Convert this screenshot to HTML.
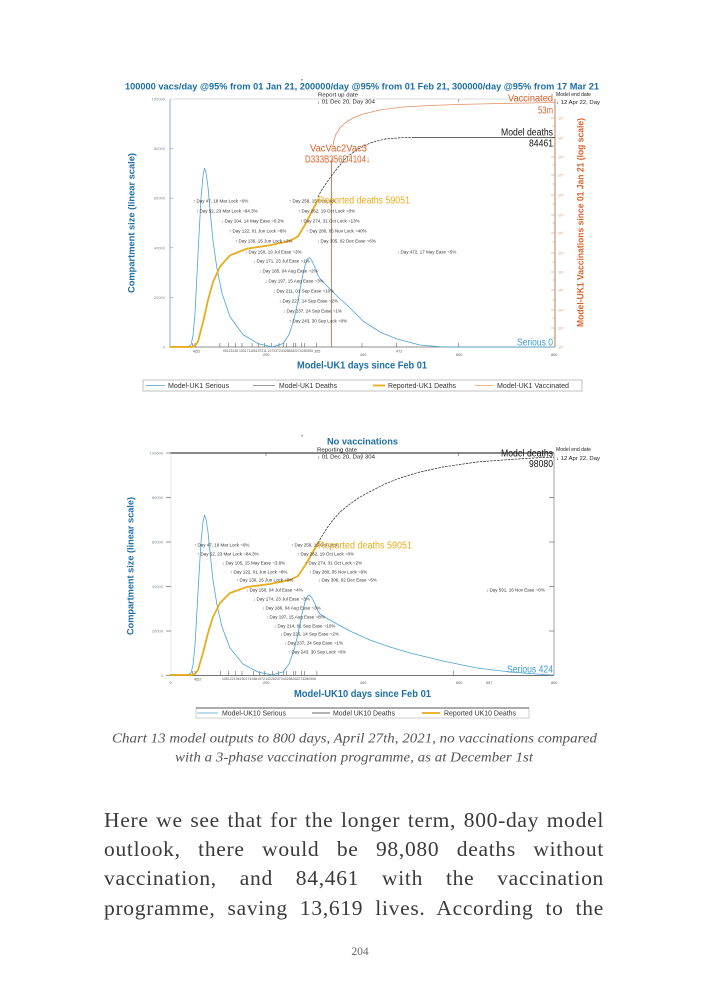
<!DOCTYPE html>
<html><head><meta charset="utf-8"><style>
html,body{margin:0;padding:0;background:#fff;}
body{width:709px;height:992px;position:relative;overflow:hidden;}
svg{position:absolute;left:0;top:0;}
.bt{position:absolute;left:104px;top:806px;width:500px;font-family:"Liberation Serif",serif;font-size:21.5px;line-height:29.2px;color:#3a3a3a;letter-spacing:0.7px;}
.bt div{text-align:justify;text-align-last:justify;height:29.2px;}
</style></head><body>
<svg width="709" height="992" viewBox="0 0 709 992" font-family="Liberation Sans, DejaVu Sans, sans-serif">
<!-- ================= TOP CHART ================= -->
<text x="125" y="89.5" font-size="9.5" font-weight="bold" fill="#1c6ea4" textLength="474" lengthAdjust="spacingAndGlyphs">100000 vacs/day @95% from 01 Jan 21, 200000/day @95% from 01 Feb 21, 300000/day @95% from 17 Mar 21</text>
<rect x="301.5" y="79" width="1" height="1.5" fill="#555"/>
<!-- frame -->
<line x1="170" y1="99" x2="555" y2="99" stroke="#cfcfcf" stroke-width="0.8"/>
<line x1="170" y1="99" x2="170" y2="347" stroke="#6f9cc2" stroke-width="0.8"/>
<line x1="170" y1="347" x2="555" y2="347" stroke="#666" stroke-width="0.8"/>
<line x1="555" y1="99" x2="555" y2="347" stroke="#b9825c" stroke-width="1"/>
<line x1="458.5" y1="99" x2="458.5" y2="102" stroke="#777" stroke-width="0.6"/>
<!-- left ticks -->
<g stroke="#6f9cc2" stroke-width="0.6">
<line x1="170" y1="148.6" x2="173" y2="148.6"/><line x1="170" y1="198.2" x2="173" y2="198.2"/><line x1="170" y1="247.8" x2="173" y2="247.8"/><line x1="170" y1="297.4" x2="173" y2="297.4"/>
</g>
<g font-size="4" fill="#7f8d99" text-anchor="end">
<text x="165" y="100.5">100000</text><text x="165" y="150">80000</text><text x="165" y="199.7">60000</text><text x="165" y="249.3">40000</text><text x="165" y="298.9">20000</text><text x="165" y="348.5">0</text>
</g>
<!-- right axis ticks -->
<g stroke="#c89878" stroke-width="0.6">
<line x1="551" y1="118" x2="555" y2="118"/><line x1="551" y1="138" x2="555" y2="138"/><line x1="551" y1="157" x2="555" y2="157"/><line x1="551" y1="175" x2="555" y2="175"/><line x1="551" y1="195" x2="555" y2="195"/><line x1="551" y1="215" x2="555" y2="215"/><line x1="551" y1="233" x2="555" y2="233"/><line x1="551" y1="253" x2="555" y2="253"/><line x1="551" y1="272" x2="555" y2="272"/><line x1="551" y1="290" x2="555" y2="290"/><line x1="551" y1="310" x2="555" y2="310"/><line x1="551" y1="328" x2="555" y2="328"/>
<line x1="552.5" y1="126" x2="555" y2="126"/><line x1="552.5" y1="146" x2="555" y2="146"/><line x1="552.5" y1="165" x2="555" y2="165"/><line x1="552.5" y1="184" x2="555" y2="184"/><line x1="552.5" y1="204" x2="555" y2="204"/><line x1="552.5" y1="223" x2="555" y2="223"/><line x1="552.5" y1="242" x2="555" y2="242"/><line x1="552.5" y1="262" x2="555" y2="262"/><line x1="552.5" y1="280" x2="555" y2="280"/><line x1="552.5" y1="300" x2="555" y2="300"/><line x1="552.5" y1="318" x2="555" y2="318"/><line x1="552.5" y1="338" x2="555" y2="338"/>
</g>
<g font-size="3.8" fill="#d49a74">
<text x="558" y="119.5">10⁷</text><text x="558" y="139.5">10⁷</text><text x="558" y="158.5">10⁶</text><text x="558" y="176.5">10⁶</text><text x="558" y="196.5">10⁶</text><text x="558" y="216.5">10⁵</text><text x="558" y="234.5">10⁵</text><text x="558" y="254.5">10⁴</text><text x="558" y="273.5">10⁴</text><text x="558" y="291.5">10³</text><text x="558" y="311.5">10²</text><text x="558" y="329.5">10¹</text><text x="558" y="348.5">10⁰</text>
</g>
<!-- event ticks bottom -->
<g stroke="#444" stroke-width="0.5">
<line x1="192.6" y1="343" x2="192.6" y2="347"/><line x1="195" y1="343" x2="195" y2="347"/><line x1="219.9" y1="343" x2="219.9" y2="347"/><line x1="228.6" y1="343" x2="228.6" y2="347"/><line x1="235.3" y1="343" x2="235.3" y2="347"/><line x1="242" y1="343" x2="242" y2="347"/><line x1="252.1" y1="343" x2="252.1" y2="347"/><line x1="258.8" y1="343" x2="258.8" y2="347"/><line x1="264.6" y1="343" x2="264.6" y2="347"/><line x1="271.3" y1="343" x2="271.3" y2="347"/><line x1="279" y1="343" x2="279" y2="347"/><line x1="283.8" y1="343" x2="283.8" y2="347"/><line x1="286.6" y1="343" x2="286.6" y2="347"/><line x1="293.8" y1="343" x2="293.8" y2="347"/><line x1="295.8" y1="343" x2="295.8" y2="347"/><line x1="301.5" y1="343" x2="301.5" y2="347"/><line x1="304.4" y1="343" x2="304.4" y2="347"/><line x1="316.4" y1="343" x2="316.4" y2="347"/><line x1="362" y1="343" x2="362" y2="347"/><line x1="396.6" y1="343" x2="396.6" y2="347"/><line x1="458.5" y1="343" x2="458.5" y2="347"/>
</g>
<g font-size="3.8" fill="#555">
<text x="193" y="352.5">4|52</text>
<text x="223" y="352" textLength="90" lengthAdjust="spacingAndGlyphs">95123136 150171185197211 227237243258262274280305</text>
<text x="314" y="352.5">305</text>
<text x="396" y="352.5">472</text>
<text x="263" y="356">200</text><text x="360" y="356">400</text><text x="456" y="356">600</text><text x="551" y="356">800</text>
</g>
<!-- vaccination start line -->
<line x1="331.5" y1="160" x2="331.5" y2="347" stroke="#c97a4c" stroke-width="0.9"/>
<!-- shared curves scaled into top chart -->
<g transform="matrix(1 0 0 1.1171 0 -407.1)">
<polyline vector-effect="non-scaling-stroke" fill="none" stroke="#4ba3d3" stroke-width="0.8" stroke-linejoin="round" points="170,675 188,675 191,673 193,665 195,645 197,610 199,575 201,542 203,522 204.5,515 206,519 208,532 210,552 213,580 217,605 222,627 230,648 243,664 258,672 272,675 283,672 289,664 294,650 298,634 302,614 305,602 307.5,596 309.5,595 312,598 315,604 318,611 320,614"/>
<polyline vector-effect="non-scaling-stroke" fill="none" stroke="#e8ac1c" stroke-width="1.8" stroke-linejoin="round" stroke-linecap="round" points="170,675 192,675 195,674 198,670 203,653 208,633 213,617 220,603 230,593 247,587 270,584 290,580 298,576 302,570 306,564 310,557 314,550 318,543"/>
</g>
<polyline fill="none" stroke="#4ba3d3" stroke-width="0.8" stroke-linejoin="round" points="320,278.8 327,286 337,296 347,305 363,321 380,332 397,339 420,345 443,347 555,347"/>
<polyline fill="none" stroke="#222" stroke-width="0.7" stroke-dasharray="2.5,1" points="318,197 321,191 325,185 332,175 340,165 347,157 358,149 370,143 385,139 400,137.8 413,137.5"/>
<line x1="413" y1="137.5" x2="555" y2="137.5" stroke="#333" stroke-width="0.8"/>
<polyline fill="none" stroke="#e09060" stroke-width="0.8" stroke-linejoin="round" points="333,146 334,140 336,134 340,128 345,123 353,118 363,114 380,110 403,107 430,105.5 457,104.5 500,103.5 555,102.5"/>
<!-- annotations -->
<g font-size="4.5" fill="#333">
<text x="193" y="202.5">↑ Day 47, 18 Mar Lock ~0%</text>
<text x="196" y="212.5">↑ Day 52, 23 Mar Lock ~84.3%</text>
<text x="221" y="222.5">↓ Day 104, 14 May Ease ~0.2%</text>
<text x="229" y="232.5">↑ Day 122, 01 Jun Lock ~8%</text>
<text x="235" y="242.5">↑ Day 136, 15 Jun Lock ~2%</text>
<text x="245" y="253.5">↓ Day 150, 19 Jul Ease ~3%</text>
<text x="253" y="262.5">↓ Day 171, 23 Jul Ease ~1%</text>
<text x="259" y="272.5">↓ Day 185, 04 Aug Ease ~2%</text>
<text x="265" y="282.5">↓ Day 197, 15 Aug Ease ~3%</text>
<text x="273" y="292.5">↓ Day 211, 01 Sep Ease ~10%</text>
<text x="279" y="302.5">↓ Day 227, 14 Sep Ease ~2%</text>
<text x="283" y="312.5">↓ Day 237, 24 Sep Ease ~1%</text>
<text x="289" y="322.5">↑ Day 243, 30 Sep Lock ~0%</text>
<text x="289" y="202.5">↑ Day 258, 15 Oct Lock</text>
<text x="298" y="212.5">↑ Day 262, 19 Oct Lock ~0%</text>
<text x="300" y="222.5">↑ Day 274, 31 Oct Lock ~13%</text>
<text x="306" y="232.5">↑ Day 280, 05 Nov Lock ~40%</text>
<text x="317" y="242.5">↓ Day 305, 02 Dec Ease ~6%</text>
<text x="397" y="253.5">↓ Day 472, 17 May Ease ~5%</text>
</g>
<g font-size="5" fill="#222">
<text x="318" y="96.5" textLength="40" lengthAdjust="spacingAndGlyphs">Report up date</text>
<text x="317" y="103.5" textLength="58" lengthAdjust="spacingAndGlyphs">↓ 01 Dec 20, Day 304</text>
<text x="556" y="96" textLength="35" lengthAdjust="spacingAndGlyphs">Model end date</text>
<text x="556" y="104" textLength="44" lengthAdjust="spacingAndGlyphs">↓ 12 Apr 22, Day</text>
</g>
<g font-size="10">
<text x="310" y="151.5" fill="#d9622b" textLength="57" lengthAdjust="spacingAndGlyphs">VacVac2Vac3</text>
<text x="305" y="162.5" fill="#d9622b" textLength="65" lengthAdjust="spacingAndGlyphs">D333B356D4104↓</text>
<text x="318" y="203.5" fill="#e8ac1c" textLength="92" lengthAdjust="spacingAndGlyphs">Reported deaths 59051</text>
<text x="508" y="101.5" fill="#d9622b" textLength="45" lengthAdjust="spacingAndGlyphs">Vaccinated</text>
<text x="538" y="113.5" fill="#d9622b" textLength="15" lengthAdjust="spacingAndGlyphs">53m</text>
<text x="501" y="135.5" fill="#111" textLength="52" lengthAdjust="spacingAndGlyphs">Model deaths</text>
<text x="529" y="146.5" fill="#111" textLength="24" lengthAdjust="spacingAndGlyphs">84461</text>
<text x="517" y="345.5" fill="#3a9cd0" textLength="36" lengthAdjust="spacingAndGlyphs">Serious 0</text>
</g>
<text x="297" y="368.5" font-size="10" font-weight="bold" fill="#1c6ea4" textLength="130" lengthAdjust="spacingAndGlyphs">Model-UK1 days since Feb 01</text>
<text transform="translate(134.5,223) rotate(-90)" text-anchor="middle" font-size="9.5" font-weight="bold" fill="#1c6ea4" textLength="140" lengthAdjust="spacingAndGlyphs">Compartment size (linear scale)</text>
<text transform="translate(583.5,222.5) rotate(-90)" text-anchor="middle" font-size="9.5" font-weight="bold" fill="#d9622b" textLength="209" lengthAdjust="spacingAndGlyphs">Model-UK1 Vaccinations since 01 Jan 21 (log scale)</text>
<!-- legend top -->
<rect x="143" y="380" width="439" height="11" fill="#fff" stroke="#a8a8a8" stroke-width="0.7"/>
<line x1="146" y1="385.5" x2="165" y2="385.5" stroke="#4ba3d3" stroke-width="0.8"/>
<line x1="253" y1="385.5" x2="275" y2="385.5" stroke="#777" stroke-width="0.8"/>
<line x1="373" y1="385.5" x2="385" y2="385.5" stroke="#e8ac1c" stroke-width="1.8"/>
<line x1="475" y1="385.5" x2="493" y2="385.5" stroke="#f0b48a" stroke-width="0.9"/>
<g font-size="7" fill="#333">
<text x="168" y="388" textLength="61" lengthAdjust="spacingAndGlyphs">Model-UK1 Serious</text>
<text x="279" y="388" textLength="58" lengthAdjust="spacingAndGlyphs">Model-UK1 Deaths</text>
<text x="388" y="388" textLength="68" lengthAdjust="spacingAndGlyphs">Reported-UK1 Deaths</text>
<text x="497" y="388" textLength="72" lengthAdjust="spacingAndGlyphs">Model-UK1 Vaccinated</text>
</g>

<!-- ================= BOTTOM CHART ================= -->
<rect x="301.5" y="435" width="1" height="1.5" fill="#555"/>
<text x="327" y="444.5" font-size="9.5" font-weight="bold" fill="#1c6ea4" textLength="71" lengthAdjust="spacingAndGlyphs">No vaccinations</text>
<line x1="170" y1="453" x2="554" y2="453" stroke="#111" stroke-width="1"/>
<line x1="171" y1="453" x2="171" y2="675" stroke="#d8d8d8" stroke-width="0.6"/>
<line x1="170" y1="675.5" x2="554" y2="675.5" stroke="#444" stroke-width="0.8"/>
<line x1="554" y1="453" x2="554" y2="675" stroke="#999" stroke-width="0.9"/>
<g stroke="#555" stroke-width="0.6">
<line x1="166" y1="453" x2="171" y2="453"/><line x1="166" y1="497.5" x2="171" y2="497.5"/><line x1="166" y1="542" x2="171" y2="542"/><line x1="166" y1="586.5" x2="171" y2="586.5"/><line x1="166" y1="631" x2="171" y2="631"/><line x1="166" y1="675.5" x2="171" y2="675.5"/>
<line x1="549" y1="497.5" x2="554" y2="497.5"/><line x1="549" y1="542" x2="554" y2="542"/><line x1="549" y1="586.5" x2="554" y2="586.5"/><line x1="549" y1="631" x2="554" y2="631"/>
<line x1="266" y1="453" x2="266" y2="456"/><line x1="362" y1="453" x2="362" y2="456"/><line x1="458.5" y1="453" x2="458.5" y2="456"/>
</g>
<g font-size="4" fill="#7f8d99" text-anchor="end">
<text x="163" y="454.5">100000</text><text x="163" y="499">80000</text><text x="163" y="543.5">60000</text><text x="163" y="588">40000</text><text x="163" y="632.5">20000</text><text x="163" y="677">0</text>
</g>
<g stroke="#444" stroke-width="0.5">
<line x1="192.6" y1="671" x2="192.6" y2="675"/><line x1="195" y1="671" x2="195" y2="675"/><line x1="220.4" y1="671" x2="220.4" y2="675"/><line x1="228.6" y1="671" x2="228.6" y2="675"/><line x1="235.3" y1="671" x2="235.3" y2="675"/><line x1="242" y1="671" x2="242" y2="675"/><line x1="253.5" y1="671" x2="253.5" y2="675"/><line x1="259.3" y1="671" x2="259.3" y2="675"/><line x1="264.6" y1="671" x2="264.6" y2="675"/><line x1="272.7" y1="671" x2="272.7" y2="675"/><line x1="278.5" y1="671" x2="278.5" y2="675"/><line x1="283.8" y1="671" x2="283.8" y2="675"/><line x1="286.6" y1="671" x2="286.6" y2="675"/><line x1="293.8" y1="671" x2="293.8" y2="675"/><line x1="295.8" y1="671" x2="295.8" y2="675"/><line x1="301.5" y1="671" x2="301.5" y2="675"/><line x1="304.4" y1="671" x2="304.4" y2="675"/><line x1="316.9" y1="671" x2="316.9" y2="675"/><line x1="453.7" y1="671" x2="453.7" y2="675"/>
</g>
<g font-size="3.8" fill="#555">
<text x="194" y="680.5">4|52</text>
<text x="222" y="680" textLength="94" lengthAdjust="spacingAndGlyphs">105122136150174186197214226237243258262274280306</text>
<text x="169.5" y="684">0</text><text x="263" y="684">200</text><text x="360" y="684">400</text><text x="456" y="684">600</text><text x="486" y="684">657</text><text x="551" y="684">800</text>
</g>
<g fill="none" stroke-linejoin="round">
<polyline stroke="#4ba3d3" stroke-width="0.8" points="170,675 188,675 191,673 193,665 195,645 197,610 199,575 201,542 203,522 204.5,515 206,519 208,532 210,552 213,580 217,605 222,627 230,648 243,664 258,672 272,675 283,672 289,664 294,650 298,634 302,614 305,602 307.5,596 309.5,595 312,598 315,604 318,611 320,614 328,619 337,624 350,631 370,640 390,647 410,653 443,661 477,668 510,672 543,674.5 554,675"/>
<polyline stroke="#e8ac1c" stroke-width="1.8" stroke-linecap="round" points="170,675 192,675 195,674 198,670 203,653 208,633 213,617 220,603 230,593 247,587 270,584 290,580 298,576 302,570 306,564 310,557 314,550 318,543"/>
<polyline stroke="#222" stroke-width="0.7" stroke-dasharray="2.5,1" points="318,543 322,536 327,528 333,520 340,512 350,504 360,497 373,490 387,483 403,477 420,472 443,467 477,462 510,459.5 540,457.6 554,457.2"/>
</g>
<g font-size="4.5" fill="#333">
<text x="194" y="546.5">↑ Day 47, 18 Mar Lock ~0%</text>
<text x="197" y="555.5">↑ Day 52, 23 Mar Lock ~84.3%</text>
<text x="222" y="564.5">↓ Day 105, 15 May Ease ~3.8%</text>
<text x="230" y="573.5">↑ Day 122, 01 Jun Lock ~8%</text>
<text x="236" y="581.5">↑ Day 136, 15 Jun Lock ~0%</text>
<text x="246" y="591.5">↓ Day 150, 04 Jul Ease ~4%</text>
<text x="253" y="600.5">↓ Day 174, 23 Jul Ease ~3%</text>
<text x="262" y="609.5">↓ Day 186, 04 Aug Ease ~3%</text>
<text x="266" y="618.5">↓ Day 197, 15 Aug Ease ~8%</text>
<text x="274" y="627.5">↓ Day 214, 01 Sep Ease ~10%</text>
<text x="280" y="635.5">↓ Day 226, 14 Sep Ease ~2%</text>
<text x="284" y="644.5">↓ Day 237, 24 Sep Ease ~1%</text>
<text x="288" y="653.5">↑ Day 243, 30 Sep Lock ~0%</text>
<text x="291" y="546.5">↑ Day 258, 15 Oct Lock</text>
<text x="297" y="555.5">↑ Day 262, 19 Oct Lock ~0%</text>
<text x="305" y="564.5">↑ Day 274, 31 Oct Lock ~2%</text>
<text x="309" y="573.5">↑ Day 280, 05 Nov Lock ~9%</text>
<text x="318" y="581.5">↓ Day 306, 02 Dec Ease ~5%</text>
<text x="486" y="591.5">↓ Day 591, 16 Nov Ease ~0%</text>
</g>
<g font-size="5" fill="#222">
<text x="317" y="451.5" textLength="40" lengthAdjust="spacingAndGlyphs">Reporting date</text>
<text x="317" y="458.5" textLength="58" lengthAdjust="spacingAndGlyphs">↓ 01 Dec 20, Day 304</text>
<text x="556" y="451" textLength="35" lengthAdjust="spacingAndGlyphs">Model end date</text>
<text x="556" y="460" textLength="44" lengthAdjust="spacingAndGlyphs">↓ 12 Apr 22, Day</text>
</g>
<g font-size="10">
<text x="318" y="548.5" fill="#e8ac1c" textLength="94" lengthAdjust="spacingAndGlyphs">Reported deaths 59051</text>
<text x="501" y="456.5" fill="#111" textLength="52" lengthAdjust="spacingAndGlyphs">Model deaths</text>
<text x="529" y="467" fill="#111" textLength="24" lengthAdjust="spacingAndGlyphs">98080</text>
<text x="507" y="672.5" fill="#3a9cd0" textLength="46" lengthAdjust="spacingAndGlyphs">Serious 424</text>
</g>
<text x="294" y="697" font-size="10" font-weight="bold" fill="#1c6ea4" textLength="137" lengthAdjust="spacingAndGlyphs">Model-UK10 days since Feb 01</text>
<text transform="translate(133.5,566) rotate(-90)" text-anchor="middle" font-size="9.5" font-weight="bold" fill="#1c6ea4" textLength="138" lengthAdjust="spacingAndGlyphs">Compartment size (linear scale)</text>
<!-- legend bottom -->
<rect x="196" y="708" width="333" height="10" fill="#fff" stroke="#bbb" stroke-width="0.7"/>
<line x1="196" y1="708" x2="529" y2="708" stroke="#333" stroke-width="0.8"/>
<line x1="197" y1="713" x2="218" y2="713" stroke="#4ba3d3" stroke-width="0.8"/>
<line x1="312" y1="713" x2="330" y2="713" stroke="#333" stroke-width="0.8"/>
<line x1="422" y1="713" x2="440" y2="713" stroke="#e8ac1c" stroke-width="1.8"/>
<g font-size="7" fill="#333">
<text x="222" y="715.5" textLength="64" lengthAdjust="spacingAndGlyphs">Model-UK10 Serious</text>
<text x="333" y="715.5" textLength="62" lengthAdjust="spacingAndGlyphs">Model UK10 Deaths</text>
<text x="444" y="715.5" textLength="72" lengthAdjust="spacingAndGlyphs">Reported UK10 Deaths</text>
</g>

<!-- caption -->
<g font-family="Liberation Serif, serif" font-style="italic" font-size="14" fill="#555">
<text x="112" y="742.5" textLength="485" lengthAdjust="spacingAndGlyphs">Chart 13 model outputs to 800 days, April 27th, 2021, no vaccinations compared</text>
<text x="175" y="761.5" textLength="358" lengthAdjust="spacingAndGlyphs">with a 3-phase vaccination programme, as at December 1st</text>
</g>
<text x="360" y="955" font-family="Liberation Serif, serif" font-size="11.5" fill="#666" text-anchor="middle">204</text>
</svg>
<div class="bt">
<div>Here we see that for the longer term, 800-day model</div>
<div>outlook, there would be 98,080 deaths without</div>
<div>vaccination, and 84,461 with the vaccination</div>
<div>programme, saving 13,619 lives. According to the</div>
</div>
</body></html>
